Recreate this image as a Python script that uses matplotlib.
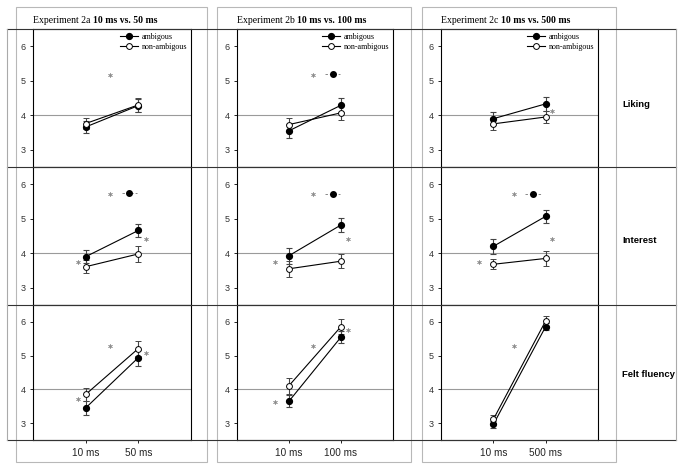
import numpy as np
import matplotlib.pyplot as plt
from matplotlib.lines import Line2D
from matplotlib.patches import Rectangle

plt.rcParams['font.family'] = 'Liberation Sans'

# ---- data ----
exp_codes = ["2a", "2b", "2c"]
exp_ranges = ["10 ms vs. 50 ms", "10 ms vs. 100 ms", "10 ms vs. 500 ms"]
xlabels = [["10 ms", "50 ms"], ["10 ms", "100 ms"], ["10 ms", "500 ms"]]
rows = ["Liking", "Interest", "Felt fluency"]
x_pos = [1, 2]

# [row][col] -> [short, long]
amb_mean = [[[3.66, 4.28], [3.55, 4.29], [3.90, 4.33]],
            [[3.90, 4.66], [3.93, 4.82], [4.20, 5.07]],
            [[3.45, 4.94], [3.65, 5.55], [2.96, 5.86]]]
amb_err = [[[0.17, 0.20], [0.20, 0.21], [0.18, 0.21]],
           [[0.19, 0.19], [0.23, 0.19], [0.22, 0.19]],
           [[0.20, 0.24], [0.18, 0.18], [0.10, 0.10]]]
non_mean = [[[3.76, 4.30], [3.73, 4.07], [3.75, 3.95]],
            [[3.61, 3.98], [3.55, 3.77], [3.68, 3.85]],
            [[3.85, 5.21], [4.11, 5.86], [3.11, 6.03]]]
non_err = [[[0.16, 0.20], [0.20, 0.22], [0.17, 0.18]],
           [[0.19, 0.22], [0.23, 0.21], [0.15, 0.22]],
           [[0.20, 0.22], [0.24, 0.22], [0.12, 0.14]]]

# significance asterisks [row][col] -> list of (x, y)
stars = [[[(1.46, 5.17)], [(1.46, 5.17)], [(2.12, 4.12)]],
         [[(0.85, 3.76), (2.15, 4.41), (1.46, 5.73)],
          [(0.73, 3.76), (2.13, 4.41), (1.46, 5.72)],
          [(0.73, 3.75), (2.12, 4.41), (1.39, 5.72)]],
         [[(0.85, 3.72), (2.15, 5.09), (1.46, 5.29)],
          [(0.73, 3.62), (2.13, 5.75), (1.46, 5.28)],
          [(1.39, 5.28)]]]
# interaction marker "-o-" [row][col] -> (x_left, x_mid, x_right, y) or None
inter = [[None, (1.69, 1.85, 1.98, 5.19), None],
         [(1.69, 1.83, 1.97, 5.74), (1.69, 1.85, 1.98, 5.73), (1.60, 1.76, 1.91, 5.73)],
         [None, None, None]]

# ---- layout (pixels) ----
W, H = 683, 469
fig = plt.figure(figsize=(W / 100, H / 100), dpi=100)

def fx(px):
    return px / W

def fy(py):
    return 1 - py / H

col_x = [(33, 191), (237, 393), (441, 598)]
row_y = [(29, 167), (167, 305), (305, 440)]
boxes = [(16, 207), (217, 411), (422, 616)]

# grey column boxes
for x0, x1 in boxes:
    fig.add_artist(Rectangle((fx(x0), fy(462)), fx(x1) - fx(x0), fy(7) - fy(462),
                             fill=False, ec='#b8b8b8', lw=0.8, transform=fig.transFigure))
# table frame
for y in [29, 167, 305, 440]:
    fig.add_artist(Line2D([fx(7), fx(676)], [fy(y), fy(y)], color='#333333', lw=0.8))
for x in [7, 676]:
    fig.add_artist(Line2D([fx(x), fx(x)], [fy(29), fy(440)], color='#aaaaaa', lw=0.8))

serif = 'Liberation Serif'
leg_handles = [Line2D([], [], color='black', lw=0.8, marker='o', ms=4.2, mfc='black'),
               Line2D([], [], color='black', lw=0.8, marker='o', ms=4.2, mfc='white', mew=0.7)]

for r in range(3):
    for c in range(3):
        x0, x1 = col_x[c]
        ytop, ybot = row_y[r]
        ax = fig.add_axes([fx(x0), fy(ybot), fx(x1) - fx(x0), fy(ytop) - fy(ybot)])
        ax.set_xlim(0, 3)
        ax.set_ylim(2.5, 6.5)
        ax.axhline(4, color='#9a9a9a', lw=0.8, zorder=1)

        ax.errorbar(x_pos, amb_mean[r][c], yerr=amb_err[r][c], color='black', lw=0.8,
                    ecolor='#444444', elinewidth=0.8, capsize=2.5, capthick=0.8,
                    marker='o', ms=4.2, mfc='black', mec='black', zorder=3)
        ax.errorbar(x_pos, non_mean[r][c], yerr=non_err[r][c], color='black', lw=0.8,
                    ecolor='#444444', elinewidth=0.8, capsize=2.5, capthick=0.8,
                    marker='o', ms=4.2, mfc='white', mec='black', mew=0.7, zorder=3)

        for sx, sy in stars[r][c]:
            ax.plot(sx, sy, marker='$*$', ms=3, color='#8a8a8a', mew=0.3, ls='none')
        if inter[r][c] is not None:
            xl, xm, xr, yy = inter[r][c]
            ax.plot([xl, xr], [yy, yy], color='#888888', lw=0.7, dashes=(2.5, 2))
            ax.plot(xm, yy, 'o', ms=4, color='black')

        ax.set_yticks([3, 4, 5, 6])
        ax.tick_params(axis='y', length=2.5, width=0.6, pad=3, labelsize=6.5,
                       labelcolor='#333333')
        if r == 2:
            ax.set_xticks(x_pos)
            ax.set_xticklabels(xlabels[c])
            ax.tick_params(axis='x', length=2.5, width=0.6, pad=3.5, labelsize=7.2,
                           labelcolor='#222222')
        else:
            ax.set_xticks([])
        for sp in ax.spines.values():
            sp.set_linewidth(0.8)
            sp.set_color('black')

        if r == 0:
            ax.legend(leg_handles, ['ambigous', 'non-ambigous'], loc='upper right',
                      frameon=False, prop={'family': serif, 'size': 5.8},
                      handlelength=2.3, handletextpad=0.4, labelspacing=0.25,
                      borderaxespad=0.2, borderpad=0.3)

# column titles
renderer = fig.canvas.get_renderer()
for c in range(3):
    t1 = fig.text(fx(col_x[c][0]), fy(23), f"Experiment {exp_codes[c]}", family=serif,
                  size=7, va='baseline', ha='left')
    bb = t1.get_window_extent(renderer)
    fig.text(bb.x1 / W + fx(2.5), fy(23), exp_ranges[c], family=serif, size=7,
             weight='bold', va='baseline', ha='left')

# row labels
row_label_y = [104, 240, 374]
for r in range(3):
    fig.text(fx(622), fy(row_label_y[r]), rows[r], weight='bold', size=6.8,
             va='center', ha='left')

fig.savefig('out.png', dpi=100)
